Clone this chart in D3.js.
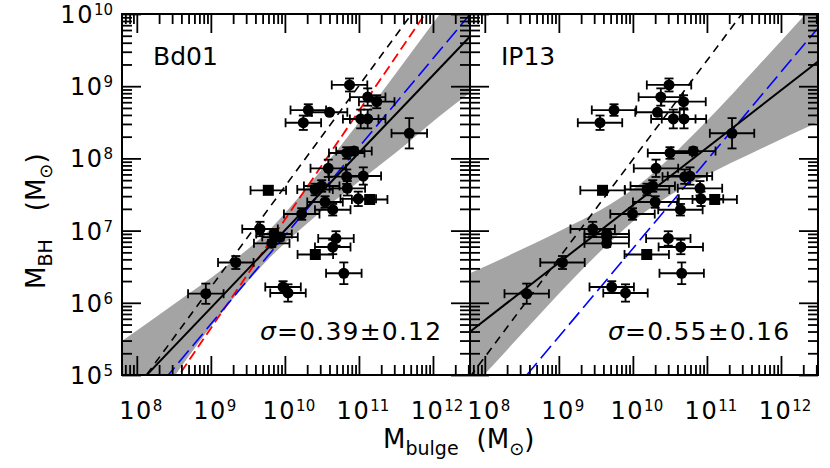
<!DOCTYPE html>
<html>
<head>
<meta charset="utf-8">
<script src="https://cdn.jsdelivr.net/npm/d3@7"></script>
<style>
  body { margin: 0; background: #fff; }
  text { font-family: "DejaVu Sans", sans-serif; fill: #000; }
</style>
</head>
<body>
<script>
const w = 830;
const h = 468;

// log10 M_BH, same galaxies in both panels
const logMbh = [9.017, 8.850, 8.785, 8.639, 8.670, 8.494, 8.546, 8.546, 8.348, 8.075,
  8.102, 7.863, 7.747, 7.756, 7.558, 7.618, 7.569, 7.586, 7.440, 7.431,
  7.396, 7.289, 6.891, 6.773, 6.669, 6.409, 7.230, 7.022, 6.953, 6.911,
  6.824, 6.558, 6.126, 6.219, 6.136];
const errMbh = [0.09, 0.12, 0.09, 0.03, 0.08, 0.10, 0.13, 0.13, 0.21, 0.08,
  0.05, 0.12, 0.10, 0.12, 0.03, 0.08, 0.08, 0.10, 0.10, 0.03,
  0.08, 0.08, 0.10, 0.10, 0.03, 0.15, 0.08, 0.10, 0.05, 0.05,
  0.05, 0.09, 0.14, 0.08, 0.12];
const isSquare = [0, 0, 0, 0, 0, 0, 0, 0, 0, 0, 0, 0, 0, 0, 1, 0, 0, 0, 0, 1,
  0, 0, 0, 0, 1, 0, 0, 0, 0, 0, 0, 0, 0, 0, 0];

// log10 M_bulge from the two decompositions
const logBulgeBd01 = [10.873, 11.118, 11.240, 10.603, 10.316, 10.249, 11.024, 11.118, 11.680, 10.835,
  10.933, 10.586, 10.835, 11.059, 9.776, 10.497, 10.407, 10.843, 10.991, 11.145,
  10.542, 10.646, 10.690, 10.646, 10.411, 10.796, 10.227, 9.664, 9.853, 9.934,
  9.822, 9.337, 8.932, 9.975, 10.042];
const logBulgeIP13 = [10.488, 10.377, 10.684, 10.332, 9.745, 9.556, 10.546, 10.690, 11.339, 10.501,
  10.816, 10.312, 10.700, 10.771, 9.590, 10.268, 10.191, 10.906, 10.920, 11.105,
  10.301, 10.642, 10.478, 10.647, 10.187, 10.659, 9.995, 9.457, 9.646, 9.646,
  9.646, 9.049, 8.566, 9.714, 9.900];
const errBulgeBd01 = 0.24;
const errBulgeIP13 = 0.30;

// relations, end points in log units
const fitBd01 = [[7.8, 4.641], [12.5, 9.689]];
const dashBd01 = [[7.8, 4.54], [12.5, 11.10]];
const redBd01 = [[7.8, 3.841], [12.5, 10.915]];
const blueBd01 = [[7.8, 4.234], [12.5, 9.996]];
const fitIP13 = [[7.8, 5.6], [12.5, 9.341]];
const dashIP13 = [[7.8, 4.975], [12.5, 11.409]];
const blueIP13 = [[7.8, 4.064], [12.5, 9.807]];

// confidence bands
const bandBd01X = [7.8, 8.5, 9.2, 9.8, 10.3, 11.0, 11.5, 12.07, 12.5];
const bandBd01Hi = [5.47, 5.98, 6.5, 7.02, 7.6, 8.5, 9.18, 9.97, 10.55];
const bandBd01Lo = [3.89, 4.97, 5.93, 6.63, 7.1, 7.68, 8.08, 8.57, 8.91];
const bandIP13X = [7.8, 8.5, 9.2, 9.7, 10.1, 10.5, 11.0, 11.7, 12.5];
const bandIP13Hi = [6.41, 6.74, 7.09, 7.37, 7.65, 8.01, 8.52, 9.29, 10.19];
const bandIP13Lo = [4.79, 5.57, 6.34, 6.85, 7.21, 7.49, 7.77, 8.12, 8.50];

const xDecades = [8, 9, 10, 11, 12];
const yDecades = [5, 6, 7, 8, 9, 10];
const panelNames = ["Bd01", "IP13"];
const sigmaValues = ["=0.39±0.12", "=0.55±0.16"];

const yTop = 14, yBottom = 375;
const panels = [
  { name: panelNames[0], sigma: sigmaValues[0], x0: 122, x1: 470, bx: logBulgeBd01, ex: errBulgeBd01,
    band: [bandBd01X, bandBd01Hi, bandBd01Lo],
    lines: [[dashBd01, "#000", "8,6", 1.6], [redBd01, "#ff0000", "10,5", 1.8],
            [blueBd01, "#0000ff", "16,6", 1.6], [fitBd01, "#000", null, 2]] },
  { name: panelNames[1], sigma: sigmaValues[1], x0: 470, x1: 818, bx: logBulgeIP13, ex: errBulgeIP13,
    band: [bandIP13X, bandIP13Hi, bandIP13Lo],
    lines: [[dashIP13, "#000", "8,6", 1.6], [blueIP13, "#0000ff", "16,6", 1.6],
            [fitIP13, "#000", null, 2]] }
];

const svg = d3.select("body").append("svg").attr("width", w).attr("height", h);

const y = d3.scaleLog().domain([1e5, 1e10]).range([yBottom, yTop]);

function minors(decades, lo, hi) {
  const out = [];
  decades.forEach((d) => {
    for (let k = 2; k <= 9; k++) {
      const v = k * 10 ** d;
      if (v > lo && v < hi) out.push(v);
    }
  });
  return out;
}

function powerLabel(sel, d) {
  sel.append("tspan").attr("letter-spacing", 1.5).text("10");
  sel.append("tspan").attr("dy", -8).attr("font-size", 15).text(d);
}

const xMin = 10 ** 7.8, xMax = 10 ** 12.5;
const xMinor = minors([7, 8, 9, 10, 11, 12], xMin, xMax);
const yMinor = minors([5, 6, 7, 8, 9], 1e5, 1e10);

panels.forEach((p, pi) => {
  const x = d3.scaleLog().domain([xMin, xMax]).range([p.x0, p.x1]);
  const g = svg.append("g");

  g.append("clipPath").attr("id", "clip" + pi)
    .append("rect").attr("x", p.x0).attr("y", yTop)
    .attr("width", p.x1 - p.x0).attr("height", yBottom - yTop);

  const plot = g.append("g").attr("clip-path", `url(#clip${pi})`);

  // grey band
  const [bx, bhi, blo] = p.band;
  const area = d3.area()
    .x((d) => x(10 ** d))
    .y0((d, i) => y(10 ** blo[i]))
    .y1((d, i) => y(10 ** bhi[i]))
    .curve(d3.curveMonotoneX);
  plot.append("path").datum(bx).attr("d", area).attr("fill", "#a4a4a4");

  // relations
  const line = d3.line().x((d) => x(10 ** d[0])).y((d) => y(10 ** d[1]));
  p.lines.forEach(([pts, color, dash, sw]) => {
    plot.append("path").datum(pts).attr("d", line)
      .attr("fill", "none").attr("stroke", color).attr("stroke-width", sw)
      .attr("stroke-dasharray", dash);
  });

  // data with error bars
  const pts = logMbh.map((ly, i) => ({ lx: p.bx[i], ly, ey: errMbh[i], sq: isSquare[i] }));
  const eb = plot.append("g").attr("stroke", "#000").attr("stroke-width", 1.8);
  const cap = 4.5;
  pts.forEach((d) => {
    const xl = x(10 ** (d.lx - p.ex)), xr = x(10 ** (d.lx + p.ex));
    const cx = x(10 ** d.lx), cy = y(10 ** d.ly);
    const yt = y(10 ** (d.ly + d.ey)), yb = y(10 ** (d.ly - d.ey));
    eb.append("line").attr("x1", xl).attr("x2", xr).attr("y1", cy).attr("y2", cy);
    eb.append("line").attr("x1", xl).attr("x2", xl).attr("y1", cy - cap).attr("y2", cy + cap);
    eb.append("line").attr("x1", xr).attr("x2", xr).attr("y1", cy - cap).attr("y2", cy + cap);
    eb.append("line").attr("x1", cx).attr("x2", cx).attr("y1", yt).attr("y2", yb);
    eb.append("line").attr("x1", cx - cap).attr("x2", cx + cap).attr("y1", yt).attr("y2", yt);
    eb.append("line").attr("x1", cx - cap).attr("x2", cx + cap).attr("y1", yb).attr("y2", yb);
  });
  plot.selectAll("circle.pt").data(pts.filter((d) => !d.sq)).enter().append("circle")
    .attr("class", "pt")
    .attr("cx", (d) => x(10 ** d.lx)).attr("cy", (d) => y(10 ** d.ly)).attr("r", 5.5)
    .attr("fill", "#000");
  plot.selectAll("rect.pt").data(pts.filter((d) => d.sq)).enter().append("rect")
    .attr("class", "pt")
    .attr("x", (d) => x(10 ** d.lx) - 5.5).attr("y", (d) => y(10 ** d.ly) - 5.5)
    .attr("width", 11).attr("height", 11).attr("fill", "#000");

  // axes, ticks pointing inwards
  const majX = xDecades.map((d) => 10 ** d);
  const majY = yDecades.map((d) => 10 ** d);
  const axes = [
    [d3.axisBottom(x), `translate(0,${yBottom})`, majX, xMinor],
    [d3.axisTop(x), `translate(0,${yTop})`, majX, xMinor],
    [d3.axisLeft(y), `translate(${p.x0},0)`, majY, yMinor],
    [d3.axisRight(y), `translate(${p.x1},0)`, majY, yMinor]
  ];
  axes.forEach(([ax, tr, maj, mnr]) => {
    [[maj, 19], [mnr, 10]].forEach(([vals, len]) => {
      const a = g.append("g").attr("transform", tr)
        .call(ax.tickValues(vals).tickSize(-len).tickSizeOuter(0).tickFormat(""));
      a.select(".domain").remove();
      a.selectAll(".tick line").attr("stroke", "#000").attr("stroke-width", 1.8);
    });
  });

  g.append("rect").attr("x", p.x0).attr("y", yTop)
    .attr("width", p.x1 - p.x0).attr("height", yBottom - yTop)
    .attr("fill", "none").attr("stroke", "#000").attr("stroke-width", 2);

  // x tick labels
  xDecades.forEach((d) => {
    const t = g.append("text").attr("x", x(10 ** d) + 4).attr("y", 419)
      .attr("text-anchor", "middle").attr("font-size", 24);
    powerLabel(t, d);
  });

  g.append("text").attr("x", p.x0 + 31).attr("y", 65)
    .attr("font-size", 25).text(p.name);

  const s = g.append("text").attr("x", p.x0 + 138).attr("y", 340)
    .attr("font-size", 25).attr("letter-spacing", 1.2);
  s.append("tspan").attr("font-style", "italic").text("σ");
  s.append("tspan").text(p.sigma);
});

// y tick labels
yDecades.forEach((d) => {
  const t = svg.append("text").attr("x", 113).attr("y", y(10 ** d) + 9)
    .attr("text-anchor", "end").attr("font-size", 24);
  powerLabel(t, d);
});

// axis titles
const xt = svg.append("text").attr("x", 383).attr("y", 448).attr("font-size", 26);
xt.append("tspan").text("M");
xt.append("tspan").attr("dy", 7).attr("font-size", 19).text("bulge");
xt.append("tspan").attr("dx", 18).attr("dy", -7).text("(M");
xt.append("tspan").attr("dy", 7).attr("font-size", 18).text("⊙");
xt.append("tspan").attr("dy", -7).text(")");

const ytl = svg.append("text").attr("transform", "translate(45,289) rotate(-90)")
  .attr("font-size", 26);
ytl.append("tspan").text("M");
ytl.append("tspan").attr("dy", 7).attr("font-size", 19).text("BH");
ytl.append("tspan").attr("dx", 28).attr("dy", -7).text("(M");
ytl.append("tspan").attr("dy", 7).attr("font-size", 18).text("⊙");
ytl.append("tspan").attr("dy", -7).text(")");
</script>
</body>
</html>
